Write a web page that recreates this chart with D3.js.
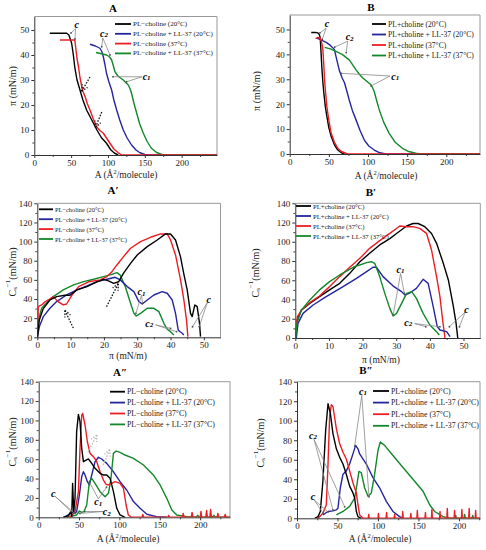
<!DOCTYPE html>
<html><head><meta charset="utf-8">
<script src="https://cdn.jsdelivr.net/npm/d3@7"></script>
<style>body{margin:0;background:#fff}svg{display:block}</style>
</head><body><svg id="c" width="486" height="550"></svg>
<script>
// ---------- DATA ----------
const colors = ["#000000", "#25259e", "#ee1c24", "#13882a"];
const legendA = ["PL\u2212choline (20°C)", "PL\u2212choline + LL-37 (20°C)", "PL\u2212choline (37°C)", "PL\u2212choline + LL-37 (37°C)"];
const legendB = ["PL+choline (20°C)", "PL+choline + LL-37 (20°C)", "PL+choline (37°C)", "PL+choline + LL-37 (37°C)"];
const xTicksArea = [0, 50, 100, 150, 200];
const xTicksPi = [0, 10, 20, 30, 40, 50];
const yTicksPi = [0, 10, 20, 30, 40, 50];
const yTicksCs = [0, 20, 40, 60, 80, 100, 120, 140];

// Panel A : pi vs A
const A_black = [[21,48.7],[30,48.7],[44,48.7],[47,48],[50.7,44.7],[53,40],[55,35],[58,30],[62,26],[66,22],[71,18],[78,14],[85,10],[91,7],[98,4.7],[104,2],[109,0.7],[114,0]];
const A_blue = [[75.6,44.3],[83,43.6],[89,42.7],[91.5,41.5],[93.7,39.3],[96,36],[98,32.7],[101,29.5],[105,26],[108,22],[111.8,18],[116,14],[120.8,10],[126,6.8],[132,4],[138,2],[143.4,0.9],[150,0.2],[157,0],[248,0]];
const A_red = [[35,46],[45,46],[55,46],[56.6,42],[58,38.5],[60,35.3],[62,31],[64,28],[66,25.5],[69,23.3],[72,20.5],[75.6,18],[80,14.5],[84.6,11.3],[89,9.8],[93.7,8.7],[98,6.8],[102.7,4.7],[108,2.4],[114,0.9],[118.5,0],[248,0]];
const A_green = [[83.7,41],[90,40.6],[98,40],[102,39.3],[105,38],[107,36],[109.5,33.3],[113,31.8],[117,30.8],[120.8,30],[124,29],[127.6,28],[130,26.5],[132,24.7],[135,21],[139,16.7],[143,12.5],[148,8.7],[153,5.5],[159,2.7],[166,1],[175,0],[248,0]];

// Panel B : pi vs A
const B_black = [[27.5,48.8],[33,48.8],[36,48.6],[38,47.8],[39,46.5],[40,41],[41,35],[42.3,29],[43.6,24.4],[45.5,19],[47.5,15],[50,10.5],[53,7],[57,3.8],[61.4,1.6],[66,0.5],[70,0]];
const B_blue = [[34.7,46.5],[40,45.8],[46.6,44.8],[52,43.6],[57,42],[60,38],[63.6,33.3],[67,30.5],[70,28.6],[73,25.2],[76,21.7],[80,17.5],[84.7,13.7],[90,9.3],[95.3,5.6],[101,3.2],[108,1.6],[115,0.5],[123,0],[243,0]];
const B_red = [[33,46.3],[36,46.8],[39,46.5],[41,44.5],[42.4,41.8],[43.5,36],[44.5,29.8],[46,24],[47.5,19],[50,13.5],[53,8.3],[57,4.8],[61.4,2.3],[66,1],[70,0.5],[74,0],[243,0]];
const B_green = [[44.5,42.8],[52,42.2],[59,41.2],[67,40],[76,37.8],[80,36],[84.7,33.8],[89,32],[93,30.6],[98,29.3],[103.8,27.8],[106,26.5],[108,25],[111,21.5],[114.4,17.7],[120,12.8],[127,8.3],[135,4.6],[144,2.3],[152,1],[161,0.3],[167,0],[243,0]];

// Panel A' : Cs^-1 vs pi
const Ap_black = [[0,0],[0.6,18],[1.8,30],[3.8,39],[5.8,42.5],[8.3,44],[9.8,44],[11.9,49.5],[14.9,53],[17.9,58],[19.9,60.6],[21.4,59],[22.9,56.4],[24.4,58],[25.9,67],[28,77.3],[30,86],[33,94.7],[36,101.7],[38.5,108],[40,108],[41.5,101.7],[43,84],[44,66],[45,49.5],[46,25],[46.5,21.6],[47.3,33.8],[48,32],[48.7,14.6],[49,0.7]];
const Ap_blue = [[0,0],[0.6,11],[1.8,21.6],[3.8,30.3],[5.8,37.3],[8.8,44.2],[11.9,49.5],[14.9,53.6],[17.9,58.2],[20.9,60.6],[23.4,62.7],[24.9,60],[27,53],[29,47.7],[30.5,37.3],[31.5,34.8],[33,39],[35,44.2],[37.5,47.7],[39,46],[40.5,39],[41.5,25],[42.3,7.7],[42.8,6],[43.5,4.2],[44,2.4]];
const Ap_red = [[0,0],[0.3,32],[1.3,33.8],[2.3,37],[3.3,39],[4.8,42.5],[6.3,37],[7.8,33.8],[8.8,34.8],[10.4,44],[12.4,53],[15.4,58],[18.9,60],[20.9,63.4],[22.4,68.6],[23.9,75.6],[25.9,84.3],[28,93],[31,100],[34,104.5],[37,108],[39,108],[40,101.7],[41.5,86],[43,60],[44,39],[44.8,18],[45.2,0.7]];
const Ap_green = [[0,0],[0.3,18],[1.3,30.3],[2.8,36.2],[4.8,42.5],[7.8,49.5],[10.9,54.7],[13.9,58.2],[16.9,60.6],[19.9,63.4],[22.4,65.8],[23.9,67.6],[24.9,65],[26.4,53],[28,35.5],[29,25],[29.7,22.3],[31,25],[33,30.3],[35,30.3],[36.5,26.8],[38,14.6],[39,8.4],[40,5.9],[41,2.4]];

// Panel B' : Cs^-1 vs pi
const Bp_black = [[0.1,0],[0.6,18.7],[1.8,29],[4.3,36],[7.2,43],[10.2,50],[13.2,56.8],[16.2,67.2],[19.2,79.3],[22.1,88],[25.1,96.7],[28.1,103.3],[30.1,108.6],[33.1,116.4],[35,119],[36.5,119],[38.5,115.7],[40.5,108.6],[42,98.4],[44,77.6],[45.5,60.3],[47,32.6],[47.8,15.2],[48.3,0]];
const Bp_blue = [[0.3,0],[0.8,15.2],[2.3,25.6],[5.3,34.3],[9.2,43],[14.2,53.4],[18.2,62],[21.2,69],[23.1,73.5],[24.1,73.5],[26.1,63.8],[29.1,54],[31.6,48.2],[32.6,44.7],[34.1,47],[36,51.6],[38,61],[39.5,56.8],[41,32.6],[42.2,11.8],[43,8.3],[45,6.6],[46,1.4]];
const Bp_red = [[0.1,0],[0.6,22],[1.8,29],[4.3,36.7],[7.2,43.7],[10.2,53.4],[13.2,63.8],[16.2,73.5],[19.2,82.8],[22.1,93.2],[25.1,101.2],[28.1,108.8],[31.1,116.4],[33.1,115.7],[35,115.7],[37,114],[39,108.8],[40.5,91.5],[42,63.8],[43,43],[43.8,18.7],[44.5,0]];
const Bp_green = [[0.1,0],[0.5,15.2],[1.8,29],[4.3,39.5],[7.2,50],[10.2,58.6],[13.2,65.5],[17.2,73.5],[21.2,78.3],[22.6,79.3],[23.6,77.6],[25.1,63.8],[26.6,46.4],[28.1,30.8],[29.1,22.9],[30.1,25.6],[31.6,36],[33.1,46.4],[34.6,48.2],[36,41.2],[38,25.6],[40,13.5],[42,6.6],[42.8,3.1]];

// Panel A'' : Cs^-1 vs A
const App_black = [[30.6,0],[36.8,1.7],[39.7,5.8],[40.9,0.7],[42,35],[43.4,5.8],[45,19.6],[47,88.4],[49.2,106.3],[51.2,98.7],[53.3,71.2],[55.4,57.4],[58.7,59],[61.6,60.2],[65.7,55.7],[69.8,50.6],[76,45.4],[80,43.7],[84.3,43.7],[88.4,40.2],[92.6,26.5],[96.7,9.3],[100.8,2.4],[107,0]];
const App_blue = [[30.6,0],[36.8,2.4],[41,5.8],[45,4.1],[47,5.8],[50.4,23],[53.3,42],[55.4,47],[57.4,43.7],[60.3,36.8],[62.8,33.4],[65.7,43.7],[69.8,57.4],[74,62],[78,60.2],[84.3,55.7],[92.6,47],[100.8,36.8],[109,28.2],[117.4,16.2],[125.6,9.3],[134,3.1],[146,0.7],[158.7,0]];
const App_red = [[34.7,0],[40,0.7],[45,5.8],[49.2,26.5],[51.2,71.2],[53.3,105.6],[54.5,107.3],[57.4,95.3],[60.3,78],[63.6,66],[67.8,62.6],[71.9,57.4],[76,47],[80.2,38.5],[83.5,34],[86.4,33.4],[90.5,35.1],[94.6,36.8],[100.8,35],[105,30],[108.3,12.7],[111,2.4],[115.3,0],[128,0],[129,3],[130,0],[160,0],[161,2],[162,0],[178,0],[179,4],[180,0],[189,0],[190,5],[191,0],[200,0],[201,6],[202,0],[207,0],[208,7],[209,0],[212,0],[213,8],[214,0],[221,0],[222,4],[223,0],[230,0],[231,3],[232,0],[237,0]];
const App_green = [[34.7,0],[47,2.4],[50.4,6.5],[53.3,5.2],[56,5.8],[59.5,12.7],[62.8,36.8],[65.7,40.2],[69.8,35],[76,26.5],[82.2,21.3],[86.4,24.8],[89.3,38.5],[92.6,66],[95.9,68.4],[100.8,67],[107,64.3],[117.4,60.9],[129.8,54],[142,43.7],[150.4,33.4],[158.7,19.6],[164.9,7.6],[171,2.4],[183.5,0.7],[195,0],[197,2],[199,0],[215,0],[217,2],[219,0],[237,0]];

// Panel B'' : Cs^-1 vs A
const Bpp_black = [[21.8,0],[26,1.7],[28.8,7],[32,38.2],[35.4,90.3],[38.3,117.4],[41.2,107.6],[44.4,86.8],[48.6,71.2],[52.7,62.5],[56.8,55.6],[60.9,45.2],[65,33],[69.1,26],[71.2,20.8],[73.3,7],[75.3,1.7],[79.4,0]];
const Bpp_blue = [[32,3.5],[38.3,7],[44.4,7.6],[48.6,8.7],[50.6,10.4],[53.5,31.3],[56.8,45.2],[60.9,48.6],[65,55.6],[69.1,66],[72.4,74.7],[75.3,71.2],[77.4,66],[85.6,55.6],[93.8,41.7],[102,31.3],[110.3,17.4],[118.5,7],[126.7,1.7],[130.9,0]];
const Bpp_red = [[26,0],[32,5.2],[36.2,13.9],[38.3,55.6],[40.3,104.2],[42.4,116.4],[44.4,114.6],[48.6,92],[52.7,76.4],[56.8,67.7],[60.9,60.8],[65,48.6],[69.1,36.5],[73.3,26],[75.3,13.9],[77.4,3.5],[81.5,0],[88,0],[88.6,4],[89.2,0],[100,0],[100.6,5],[101.2,0],[110,0],[110.6,6],[111.2,0],[120,0],[120.6,4],[121.2,0],[130,0],[130.6,7],[131.2,0],[140,0],[140.6,5],[141.2,0],[148,0],[148.6,8],[149.2,0],[158,0],[158.6,6],[159.2,0],[166,0],[166.6,9],[167.2,0],[176,0],[176.6,7],[177.2,0],[185,0],[185.6,10],[186.2,0],[194,0],[194.6,8],[195.2,0],[203,0],[203.6,9],[204.2,0],[212,0],[212.6,10],[213.2,0],[220,0],[220.6,8],[221.2,0],[226,0]];
const Bpp_green = [[48.6,3.5],[56.8,7],[65,12.2],[71.2,20.8],[74.1,34.7],[76.5,48],[79.4,46.9],[83.5,31.3],[87.7,22.6],[91.8,26],[95.9,45.2],[100,69.5],[102.9,78.2],[108.2,74.7],[118.5,64.3],[130.9,52.1],[143.2,40],[155.6,27.8],[163.8,13.9],[170,7],[180.2,1.7],[188.5,0],[195,0],[196,3],[197,0],[206,0],[207,4],[208,0],[216,0],[217,3],[218,0],[226,0]];

// ---------- DRAW ----------
const svg = d3.select("#c");
const FONT = "Liberation Serif, Times New Roman, serif";

function panel(cfg) {
  const x = d3.scaleLinear().domain(cfg.xd).range([cfg.l, cfg.r]);
  const y = d3.scaleLinear().domain(cfg.yd).range([cfg.b, cfg.t]);
  const g = svg.append("g");
  // frame
  g.append("line").attr("x1", cfg.l).attr("x2", cfg.r).attr("y1", cfg.t).attr("y2", cfg.t).attr("stroke", "#999").attr("stroke-width", 1);
  g.append("line").attr("x1", cfg.r).attr("x2", cfg.r).attr("y1", cfg.t).attr("y2", cfg.b).attr("stroke", "#999").attr("stroke-width", 1);
  // minor ticks
  g.append("g").attr("transform", `translate(0,${cfg.b})`)
    .call(d3.axisBottom(x).tickValues(cfg.xMinor).tickSize(2).tickFormat(""))
    .call(a => a.select(".domain").remove()).attr("color", "#444");
  g.append("g").attr("transform", `translate(${cfg.l},0)`)
    .call(d3.axisLeft(y).tickValues(cfg.yMinor).tickSize(2).tickFormat(""))
    .call(a => a.select(".domain").remove()).attr("color", "#444");
  // axes
  const xa = g.append("g").attr("transform", `translate(0,${cfg.b})`)
    .call(d3.axisBottom(x).tickValues(cfg.xt).tickSize(3).tickSizeOuter(0).tickPadding(1.5));
  const ya = g.append("g").attr("transform", `translate(${cfg.l},0)`)
    .call(d3.axisLeft(y).tickValues(cfg.yt).tickSize(3).tickSizeOuter(0).tickPadding(2));
  [xa, ya].forEach(a => {
    a.attr("color", "#333");
    a.selectAll("text").attr("font-family", FONT).attr("font-size", 9).attr("fill", "#222");
  });
  // series
  const line = d3.line().x(d => x(d[0])).y(d => y(d[1]));
  const clipId = "clip" + cfg.id;
  svg.append("clipPath").attr("id", clipId).append("rect")
    .attr("x", cfg.l).attr("y", cfg.t - 2).attr("width", cfg.r - cfg.l).attr("height", cfg.b - cfg.t + 2);
  const sg = g.append("g").attr("clip-path", `url(#${clipId})`);
  cfg.order.forEach(i => {
    sg.append("path").datum(cfg.series[i]).attr("d", line)
      .attr("fill", "none").attr("stroke", colors[i]).attr("stroke-width", 1.4).attr("stroke-linejoin", "round");
  });
  // legend
  const texts = [];
  cfg.legend.forEach((t, i) => {
    const ly = cfg.lg.y + i * cfg.lg.dy;
    g.append("line").attr("x1", cfg.lg.x).attr("x2", cfg.lg.x + cfg.lg.w).attr("y1", ly).attr("y2", ly)
      .attr("stroke", colors[i]).attr("stroke-width", 1.8);
    texts.push(g.append("text").attr("x", cfg.lg.x + cfg.lg.w + 2).attr("y", ly).attr("dominant-baseline", "central")
      .attr("font-family", FONT).attr("font-size", 10).attr("fill", "#222").text(t));
  });
  const maxW = d3.max(texts, t => t.node().getComputedTextLength());
  texts.forEach(t => t.attr("font-size", 10 * cfg.lg.tw / maxW));
  // title
  g.append("text").attr("x", cfg.title.x).attr("y", cfg.title.y).attr("text-anchor", "middle")
    .attr("dominant-baseline", "central").attr("font-family", FONT).attr("font-weight", "bold")
    .attr("font-size", 11).text(cfg.title.t);
  // x label
  const xl = g.append("text").attr("x", cfg.xl.x).attr("y", cfg.xl.y).attr("text-anchor", "middle")
    .attr("dominant-baseline", "central").attr("font-family", FONT).attr("font-size", 9.5).attr("fill", "#222");
  if (cfg.xl.area) {
    xl.append("tspan").text("A (Å");
    xl.append("tspan").attr("baseline-shift", "super").attr("font-size", 6.5).text("2");
    xl.append("tspan").text("/molecule)");
  } else xl.text("π (mN/m)");
  // y label
  const yl = g.append("text").attr("transform", `translate(${cfg.yl.x},${cfg.yl.y}) rotate(-90)`)
    .attr("text-anchor", "middle").attr("dominant-baseline", "central")
    .attr("font-family", FONT).attr("font-size", 10).attr("fill", "#222");
  if (cfg.yl.cs) {
    yl.append("tspan").text("C");
    yl.append("tspan").attr("font-size", 7).attr("dy", 3).text("s");
    yl.append("tspan").attr("font-size", 7).attr("dy", -7).text("−1");
    yl.append("tspan").attr("dy", 4).text("(mN/m)");
  } else yl.text("π (mN/m)");
  // annotations (gray leader lines)
  (cfg.ann || []).forEach(a => {
    a.to.forEach(p => {
      g.append("line").attr("x1", x(a.from[0])).attr("y1", y(a.from[1])).attr("x2", x(p[0])).attr("y2", y(p[1]))
        .attr("stroke", "#888").attr("stroke-width", 0.8);
      g.append("circle").attr("cx", x(p[0])).attr("cy", y(p[1])).attr("r", 0.9).attr("fill", "#555");
    });
    const t = g.append("text").attr("x", x(a.at[0])).attr("y", y(a.at[1])).attr("text-anchor", "middle")
      .attr("dominant-baseline", "central").attr("font-family", FONT).attr("font-style", "italic")
      .attr("font-weight", "bold").attr("font-size", 10).text("c");
    if (a.sub) t.append("tspan").attr("font-size", 7).attr("dy", 2).text(a.sub);
  });
  // dotted arrows
  (cfg.arrows || []).forEach(a => {
    const x1 = x(a[0][0]), y1 = y(a[0][1]), x2 = x(a[1][0]), y2 = y(a[1][1]);
    const ang = Math.atan2(y2 - y1, x2 - x1);
    const hl = 7;
    const s = {stroke: cfg.arrowColor || "#111", "stroke-width": 1.3, "stroke-dasharray": "1.5,1.5"};
    const draw = (ax, ay, bx, by) => {
      const l = g.append("line").attr("x1", ax).attr("y1", ay).attr("x2", bx).attr("y2", by);
      Object.entries(s).forEach(([k, v]) => l.attr(k, v));
    };
    draw(x1, y1, x2, y2);
    draw(x2, y2, x2 - hl * Math.cos(ang - 0.45), y2 - hl * Math.sin(ang - 0.45));
    draw(x2, y2, x2 - hl * Math.cos(ang + 0.45), y2 - hl * Math.sin(ang + 0.45));
  });
}

const areaMinor = d3.range(25, 250, 50);
panel({id: "A", l: 34.3, r: 217, t: 16.5, b: 155, xd: [0, 248], yd: [0, 55.4],
  xt: xTicksArea, yt: yTicksPi, xMinor: areaMinor, yMinor: d3.range(5, 55, 10),
  series: [A_black, A_blue, A_red, A_green], order: [0, 1, 3, 2], legend: legendA,
  lg: {x: 115, y: 24, dy: 9.8, w: 16, tw: 80},
  title: {x: 113, y: 8, t: "A"}, xl: {x: 126, y: 174.5, area: true}, yl: {x: 12, y: 86},
  ann: [{at: [57.5, 52.4], from: [56, 50.5], to: [[49.8, 48.8], [55.2, 46.4]]},
        {at: [94.6, 48.8], sub: "2", from: [93, 46.8], to: [[91.5, 43.3], [102.7, 40]]},
        {at: [152.5, 31.6], sub: "1", from: [146, 31.3], to: [[106.8, 31.3], [125.4, 29.3]]}],
  arrows: [[[75.6, 31.2], [64.3, 25.5]], [[91.5, 17.2], [83, 11]]]
});
panel({id: "B", l: 289.7, r: 480, t: 15, b: 154, xd: [0, 243], yd: [0, 55.8],
  xt: xTicksArea, yt: yTicksPi, xMinor: areaMinor, yMinor: d3.range(5, 55, 10),
  series: [B_black, B_blue, B_red, B_green], order: [0, 1, 3, 2], legend: legendB,
  lg: {x: 372, y: 24, dy: 10.5, w: 14, tw: 86},
  title: {x: 371, y: 7, t: "B"}, xl: {x: 386, y: 175.5, area: true}, yl: {x: 256, y: 91},
  ann: [{at: [47.6, 52.2], from: [46.5, 50.5], to: [[38.6, 48.6], [41.6, 46]]},
        {at: [76.5, 47.1], sub: "2", from: [74, 45.3], to: [[57.4, 42.9], [72.2, 40.7]]},
        {at: [134.7, 31.3], sub: "1", from: [128, 31.3], to: [[65.8, 32.4], [104, 27.3]]}]
});
panel({id: "Ap", l: 37.3, r: 220.5, t: 203.3, b: 337.3, xd: [0, 55], yd: [0, 140],
  xt: xTicksPi, yt: yTicksCs, xMinor: d3.range(5, 55, 10), yMinor: d3.range(10, 140, 20),
  series: [Ap_black, Ap_blue, Ap_red, Ap_green], order: [3, 1, 2, 0], legend: legendA,
  lg: {x: 39, y: 209.3, dy: 9.9, w: 14, tw: 72},
  title: {x: 113, y: 190, t: "A\u2032"}, xl: {x: 128, y: 356, area: false}, yl: {x: 12, y: 272, cs: true},
  ann: [{at: [31.3, 47.6], sub: "1", from: [31.3, 44], to: [[31.6, 35.5], [29.6, 25.1]]},
        {at: [33.6, 14.6], sub: "2", from: [35.5, 13], to: [[41.8, 5.9], [40, 9.4]]},
        {at: [51.5, 39], from: [51, 36], to: [[46.6, 11], [48.6, 11]]}],
  arrows: [[[10.8, 9.7], [8.3, 28]], [[20.8, 32], [24.3, 56]]]
});
panel({id: "Bp", l: 295.3, r: 480.3, t: 203.3, b: 338, xd: [0, 55], yd: [0, 140],
  xt: xTicksPi, yt: yTicksCs, xMinor: d3.range(5, 55, 10), yMinor: d3.range(10, 140, 20),
  series: [Bp_black, Bp_blue, Bp_red, Bp_green], order: [0, 2, 1, 3], legend: legendB,
  lg: {x: 296, y: 206, dy: 10, w: 15, tw: 76},
  title: {x: 371, y: 192, t: "B\u2032"}, xl: {x: 381, y: 360, area: false}, yl: {x: 255, y: 273, cs: true},
  ann: [{at: [31.3, 71.7], sub: "1", from: [31.3, 67], to: [[29.1, 23.9], [32.4, 46.5]]},
        {at: [33.6, 16.3], sub: "2", from: [35.5, 15], to: [[38.8, 11.7], [43, 11.7]]},
        {at: [50.9, 30.1], from: [50.5, 27], to: [[45.8, 11.7], [48.8, 11.7]]}]
});
panel({id: "App", l: 38.7, r: 230, t: 381.7, b: 517.3, xd: [0, 237], yd: [0, 140],
  xt: xTicksArea, yt: yTicksCs, xMinor: areaMinor, yMinor: d3.range(10, 140, 20),
  series: [App_black, App_blue, App_red, App_green], order: [1, 3, 2, 0], legend: legendA,
  lg: {x: 110, y: 391.7, dy: 10.9, w: 15, tw: 88},
  title: {x: 120, y: 372, t: "A\u2033"}, xl: {x: 128, y: 539, area: true}, yl: {x: 12, y: 442, cs: true},
  ann: [{at: [18.1, 24.8], from: [20, 22], to: [[40, 6], [44, 4.5]]},
        {at: [84.3, 5.8], sub: "2", from: [80, 6], to: [[51, 4], [57, 6]]},
        {at: [73.9, 16.1], sub: "1", from: [73.9, 19], to: [[63, 36], [84, 31]]}],
  arrows: [[[61, 67], [72, 85]], [[80, 54], [88, 70]]], arrowColor: "#bbb"
});
panel({id: "Bpp", l: 297, r: 480, t: 381.7, b: 518.3, xd: [0, 226], yd: [0, 140],
  xt: xTicksArea, yt: yTicksCs, xMinor: areaMinor, yMinor: d3.range(10, 140, 20),
  series: [Bpp_black, Bpp_blue, Bpp_red, Bpp_green], order: [1, 3, 2, 0], legend: legendB,
  lg: {x: 373, y: 391, dy: 11.6, w: 16, tw: 88},
  title: {x: 366, y: 370, t: "B\u2033"}, xl: {x: 380, y: 539, area: true}, yl: {x: 260, y: 443, cs: true},
  ann: [{at: [81.5, 130], sub: "1", from: [80, 126], to: [[71.2, 74], [88.9, 22]]},
        {at: [19.8, 85], sub: "2", from: [21, 81], to: [[44.4, 8.5], [58.9, 11.8]]},
        {at: [19.8, 22], from: [21, 19], to: [[32.1, 5.4], [38.3, 6.4]]}]
});
</script>
</body></html>
